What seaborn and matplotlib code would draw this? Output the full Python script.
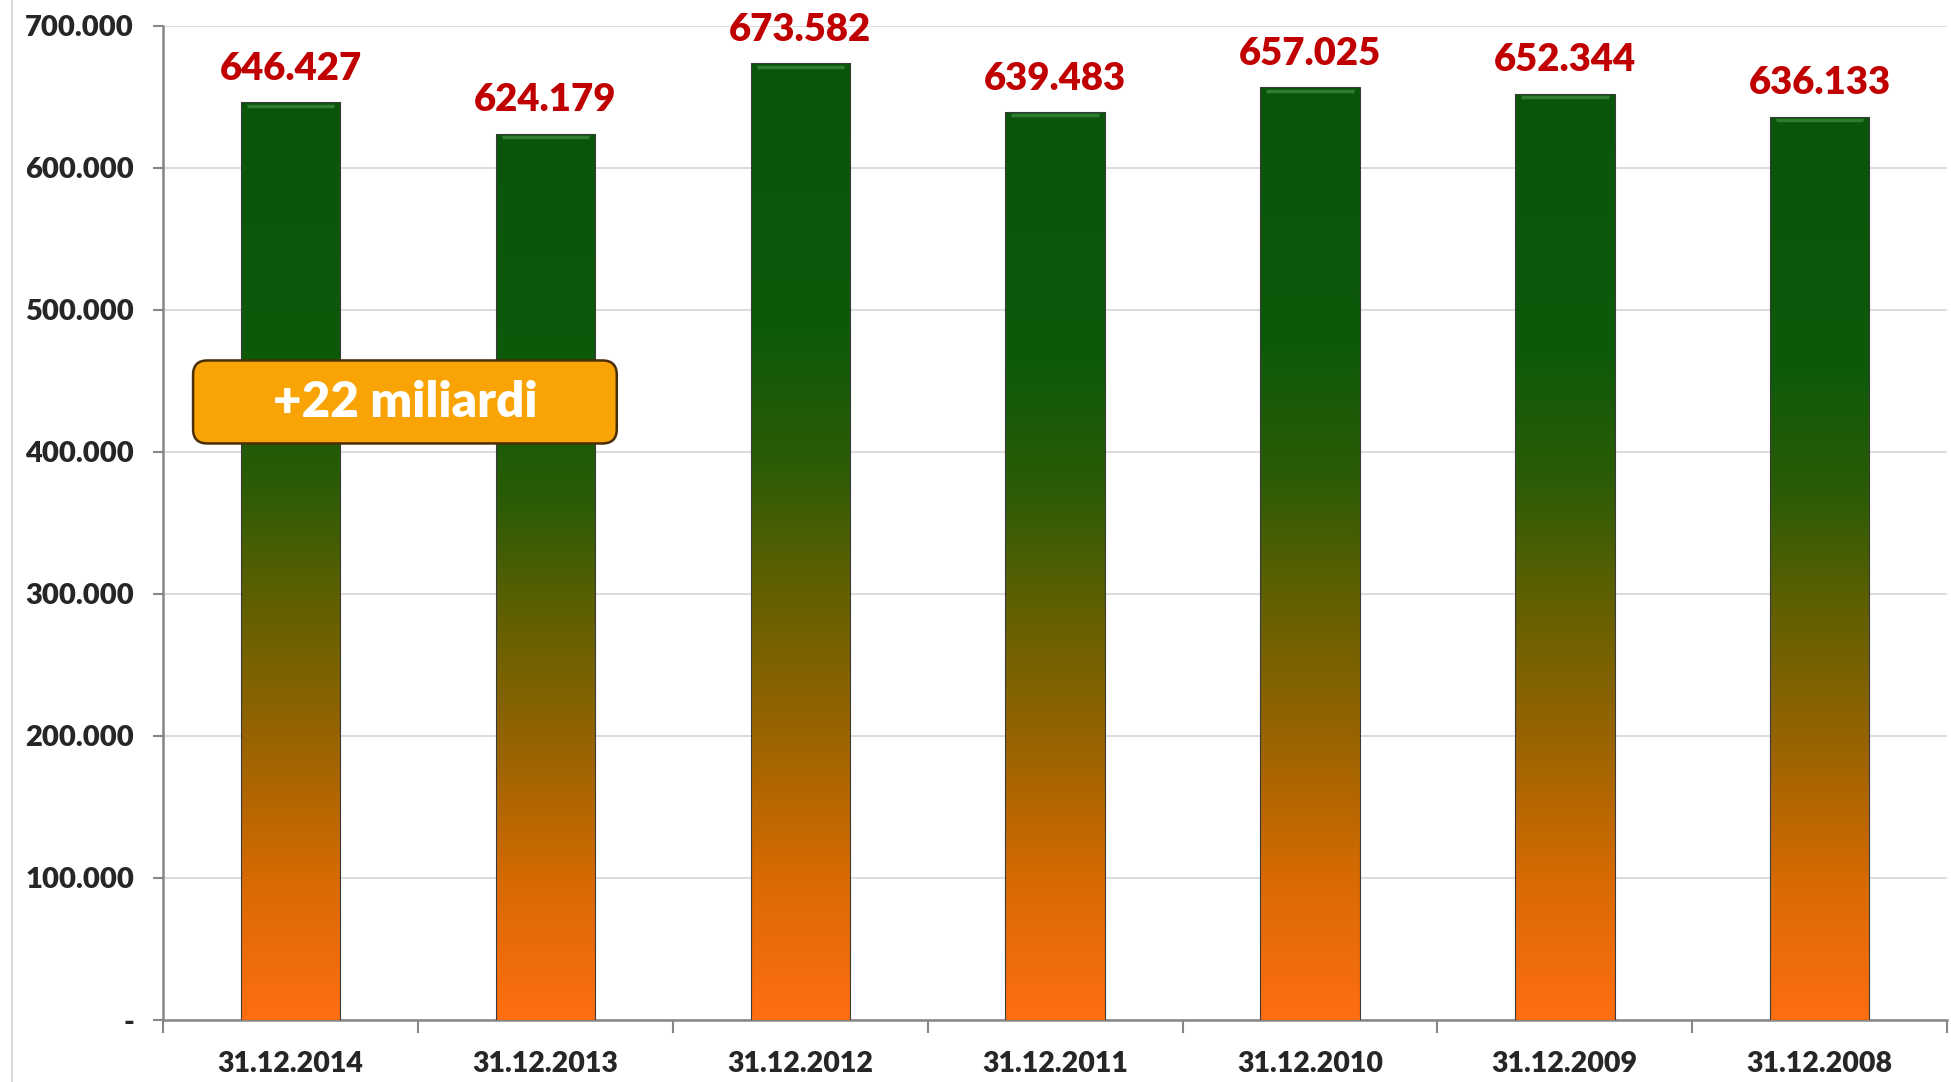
import numpy as np
import pandas as pd
import seaborn as sns
import matplotlib.pyplot as plt
from matplotlib.colors import LinearSegmentedColormap
from matplotlib.patches import FancyBboxPatch
from matplotlib.lines import Line2D
from matplotlib.ticker import FuncFormatter

# Data
dates = ["31.12.2014", "31.12.2013", "31.12.2012", "31.12.2011",
         "31.12.2010", "31.12.2009", "31.12.2008"]
values = [646427, 624179, 673582, 639483, 657025, 652344, 636133]
y_ticks = [0, 100000, 200000, 300000, 400000, 500000, 600000, 700000]
note = "+22 miliardi"

sns.set_theme(style="white")
plt.rcParams['font.family'] = ['Lato', 'DejaVu Sans']
W = "heavy"

df = pd.DataFrame({"date": dates, "value": values})

fig = plt.figure(figsize=(19.51, 10.82), dpi=100)
ax = fig.add_axes([0.0836, 0.0573, 0.9144, 0.9187])

sns.barplot(data=df, x="date", y="value", ax=ax, width=0.39,
            color="#0A5A0A", edgecolor="#3a3a3a", linewidth=0.8, zorder=3)

# gradient fill, orange at the bottom to green at the top
cmap = LinearSegmentedColormap.from_list("bar", [
    (0.0, "#FF6E10"), (0.15, "#D86A02"), (0.3, "#9A6400"),
    (0.45, "#626000"), (0.58, "#2C5C06"), (0.72, "#0E5A0A"), (1.0, "#0A550A")])
grad = np.linspace(0, 1, 256).reshape(-1, 1)
for p in ax.patches:
    x0, w, h = p.get_x(), p.get_width(), p.get_height()
    im = ax.imshow(grad, cmap=cmap, origin="lower", aspect="auto",
                   extent=[x0, x0 + w, 0, h], zorder=3.5)
    im.set_clip_path(p)
    p.set_facecolor("none")
    p.set_zorder(4)
    # light bevel at the top
    ax.plot([x0 + w * 0.06, x0 + w * 0.94], [h - 2500, h - 2500],
            color="#3f8f3f", lw=2.5, alpha=0.7, zorder=4, solid_capstyle="butt")

ax.set_xlim(-0.5, len(dates) - 0.5)
ax.set_ylim(0, 700000)
ax.set_yticks(y_ticks)
ax.yaxis.set_major_formatter(FuncFormatter(
    lambda v, _: "-" if v == 0 else f"{int(v):,}".replace(",", ".")))
ax.grid(axis="y", color="#d9d9d9", lw=1.3, zorder=0)
ax.set_axisbelow(True)

for s in ["top", "right"]:
    ax.spines[s].set_visible(False)
for s in ["left", "bottom"]:
    ax.spines[s].set_color("#868686")
    ax.spines[s].set_linewidth(1.8)

ax.tick_params(axis="y", left=True, length=7, width=1.5, color="#868686",
               pad=14, labelsize=21)
ax.set_xticks(np.arange(len(dates)))
ax.set_xticklabels(dates, fontsize=20.5, fontweight=W)
ax.set_xticks(np.arange(len(dates) + 1) - 0.5, minor=True)
ax.tick_params(axis="x", which="major", bottom=False, pad=16)
ax.tick_params(axis="x", which="minor", bottom=True, length=9, width=1.5,
               color="#868686")
for lab in ax.get_yticklabels():
    lab.set_fontweight(W)
ax.set_xlabel("")
ax.set_ylabel("")

# value labels
for i, v in enumerate(values):
    ax.annotate(f"{v:,}".replace(",", "."), (i, v), xytext=(0, 16),
                textcoords="offset points", ha="center", va="baseline",
                fontsize=27.5, fontweight=W, color="#C00000", zorder=6)

# callout box
box = FancyBboxPatch((0.0168, 0.580), 0.2375, 0.0835, transform=ax.transAxes,
                     boxstyle="round,pad=0,rounding_size=0.008",
                     mutation_aspect=1.8, facecolor="#F9A404",
                     edgecolor="#4a2e08", lw=1.8, zorder=7)
ax.add_patch(box)
ax.text(0.1355, 0.6215, note, transform=ax.transAxes, ha="center",
        va="center", fontsize=35.5, fontweight=W, color="white", zorder=8)

# chart frame line on the left
fig.add_artist(Line2D([12 / 1951, 12 / 1951], [0, 1], color="#d9d9d9", lw=1.5))

fig.savefig("out.png", dpi=100)
